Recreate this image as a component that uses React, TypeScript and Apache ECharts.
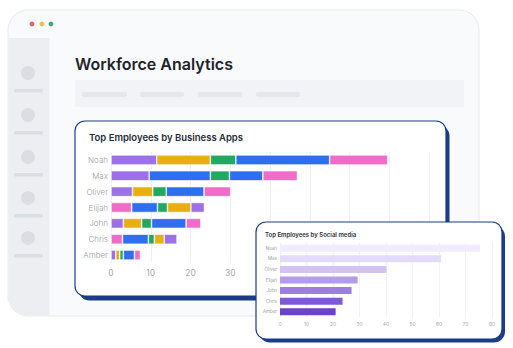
import React, { useEffect, useRef } from "react";
import * as echarts from "echarts";

// ---- Data ----
const appEmployees = ["Noah", "Max", "Oliver", "Elijah", "John", "Chris", "Amber"];
const seg1 = [11.5, 9.6, 5.4, 5.2, 3.1, 2.9, 1.2];
const seg2 = [13.5, 15.4, 5.1, 6.5, 4.6, 6.5, 1.0];
const seg3 = [6.4, 4.8, 3.4, 2.5, 2.5, 1.5, 0.9];
const seg4 = [23.6, 8.4, 9.5, 5.9, 8.7, 2.5, 2.8];
const seg5 = [14.6, 8.7, 6.7, 3.4, 3.7, 3.2, 1.5];
// app colour key for each segment of each row
const seg1Keys = ["purple", "purple", "purple", "pink", "purple", "pink", "purple"];
const seg2Keys = ["yellow", "blue", "yellow", "blue", "yellow", "blue", "yellow"];
const seg3Keys = ["green", "green", "green", "green", "green", "green", "green"];
const seg4Keys = ["blue", "blue", "blue", "yellow", "blue", "yellow", "blue"];
const seg5Keys = ["pink", "pink", "pink", "purple", "pink", "purple", "pink"];
const appTicks = [0, 10, 20, 30, 40, 50, 60, 70, 80];
// tick labels not hidden behind the social-media card
const appVisibleTicks = [0, 10, 20, 30];

const socialEmployees = ["Noah", "Max", "Oliver", "Elijah", "John", "Chris", "Amber"];
const socialValues = [75.5, 60.8, 40.2, 29.3, 27, 23.6, 21];
const socialTicks = [0, 10, 20, 30, 40, 50, 60, 70, 80];

const appColors: Record<string, string> = {
  purple: "#9d6fe8",
  yellow: "#e8b00f",
  green: "#22a861",
  blue: "#2f6fee",
  pink: "#f06cc9",
};
const socialColors = ["#f1ecfd", "#e4dbfa", "#d3c3f5", "#b59ceb", "#9c7de2", "#7e5ad7", "#6b43c9"];

const NAVY = "#1b3d86";
const FONT = "Inter, 'Noto Sans', sans-serif";

export default function App() {
  const ref = useRef<HTMLDivElement>(null);
  useEffect(() => {
    if (!ref.current) return;
    const chart = echarts.init(ref.current, undefined, { renderer: "svg" });

    const segs = [seg1, seg2, seg3, seg4, seg5];
    const keys = [seg1Keys, seg2Keys, seg3Keys, seg4Keys, seg5Keys];
    const appSeries = segs.map((vals, si) => ({
      type: "bar",
      name: "seg" + (si + 1),
      stack: "apps",
      xAxisIndex: 0,
      yAxisIndex: 0,
      barWidth: 10,
      z: 4,
      itemStyle: { borderColor: "#ffffff", borderWidth: 0.6 },
      data: vals.map((v, i) => ({ value: v, itemStyle: { color: appColors[keys[si][i]] } })),
    }));

    const sidebarY = [73, 115, 157, 198, 238];
    const sidebarEls: any[] = [];
    sidebarY.forEach((cy) => {
      sidebarEls.push({ type: "circle", z: 1, shape: { cx: 28, cy, r: 7 }, style: { fill: "#dadde3" } });
      sidebarEls.push({ type: "rect", z: 1, shape: { x: 14, y: cy + 16, width: 29, height: 3.5, r: 1.5 }, style: { fill: "#dadde3" } });
    });
    const pills = [
      [82, 45],
      [140, 44],
      [198, 44],
      [256, 44],
    ].map(([x, w]) => ({ type: "rect", z: 1, shape: { x, y: 92, width: w, height: 5, r: 2 }, style: { fill: "#e3e6eb" } }));

    const option: any = {
      animation: false,
      backgroundColor: "#ffffff",
      graphic: [
        { type: "rect", z: 0, shape: { x: 8, y: 10, width: 471, height: 306, r: 20 }, style: { fill: "#f9fafc", stroke: "#e8eaee", lineWidth: 1 } },
        { type: "rect", z: 1, shape: { x: 8.5, y: 38, width: 41, height: 277.5, r: [0, 0, 0, 20] }, style: { fill: "#eceef2" } },
        ...sidebarEls,
        { type: "circle", z: 1, shape: { cx: 32, cy: 24, r: 2.4 }, style: { fill: "#de6462" } },
        { type: "circle", z: 1, shape: { cx: 42, cy: 24, r: 2.4 }, style: { fill: "#e9c24b" } },
        { type: "circle", z: 1, shape: { cx: 51, cy: 24, r: 2.4 }, style: { fill: "#3ca87a" } },
        { type: "text", z: 1, x: 75, y: 64, style: { text: "Workforce Analytics", font: `600 16px ${FONT}`, fill: "#1e222b", verticalAlign: "middle" } },
        { type: "rect", z: 1, shape: { x: 75, y: 80, width: 389, height: 27, r: 2 }, style: { fill: "#f1f3f6" } },
        ...pills,
        // main card
        { type: "rect", z: 1, shape: { x: 78.5, y: 125, width: 371, height: 175.5, r: 11 }, style: { fill: NAVY } },
        { type: "rect", z: 1, shape: { x: 75, y: 121, width: 371, height: 175, r: 10 }, style: { fill: "#ffffff", stroke: NAVY, lineWidth: 1.2 } },
        { type: "text", z: 1, x: 89, y: 137, style: { text: "Top Employees by Business Apps", font: `600 9.5px ${FONT}`, fill: "#272b35", verticalAlign: "middle" } },
        // social card
        { type: "rect", z: 10, shape: { x: 259, y: 225.5, width: 246, height: 117, r: 11 }, style: { fill: NAVY } },
        { type: "rect", z: 10, shape: { x: 256, y: 222, width: 246, height: 117, r: 10 }, style: { fill: "#ffffff", stroke: NAVY, lineWidth: 1.2 } },
        { type: "text", z: 10, x: 265, y: 234, style: { text: "Top Employees by Social media", font: `600 6px ${FONT}`, fill: "#2b2f3a", verticalAlign: "middle" } },
      ],
      grid: [
        { left: 111, top: 152, width: 318, height: 111, z: 3 },
        { left: 280, top: 243, width: 212, height: 74, z: 11 },
      ],
      xAxis: [
        {
          type: "value",
          gridIndex: 0,
          min: appTicks[0],
          max: appTicks[appTicks.length - 1],
          interval: 10,
          z: 3,
          axisLine: { show: false },
          axisTick: { show: false },
          splitLine: { show: true, lineStyle: { color: "#eef0f3", width: 1 } },
          axisLabel: {
            color: "#a3a7ae",
            fontSize: 8.5,
            fontFamily: FONT,
            margin: 5,
            formatter: (v: number) => (appVisibleTicks.indexOf(v) >= 0 ? String(v) : ""),
          },
        },
        {
          type: "value",
          gridIndex: 1,
          min: socialTicks[0],
          max: socialTicks[socialTicks.length - 1],
          interval: 10,
          z: 11,
          axisLine: { show: false },
          axisTick: { show: false },
          splitLine: { show: true, lineStyle: { color: "#eef0f3", width: 0.8 } },
          axisLabel: { color: "#a4a8b0", fontSize: 5, fontFamily: FONT, margin: 4 },
        },
      ],
      yAxis: [
        {
          type: "category",
          gridIndex: 0,
          data: appEmployees,
          inverse: true,
          z: 3,
          axisLine: { show: false },
          axisTick: { show: false },
          splitLine: { show: false },
          axisLabel: { color: "#989da6", fontSize: 8, fontWeight: 300, fontFamily: FONT, margin: 3 },
        },
        {
          type: "category",
          gridIndex: 1,
          data: socialEmployees,
          inverse: true,
          z: 11,
          axisLine: { show: false },
          axisTick: { show: false },
          splitLine: { show: false },
          axisLabel: { color: "#9a9ea6", fontSize: 4.5, fontFamily: FONT, margin: 3 },
        },
      ],
      series: [
        ...appSeries,
        {
          type: "bar",
          name: "social",
          xAxisIndex: 1,
          yAxisIndex: 1,
          barWidth: 7,
          z: 12,
          data: socialValues.map((v, i) => ({ value: v, itemStyle: { color: socialColors[i] } })),
        },
      ],
    };
    chart.setOption(option);
    return () => chart.dispose();
  }, []);

  return <div ref={ref} style={{ position: "fixed", left: 0, top: 0, width: 513, height: 348 }} />;
}
